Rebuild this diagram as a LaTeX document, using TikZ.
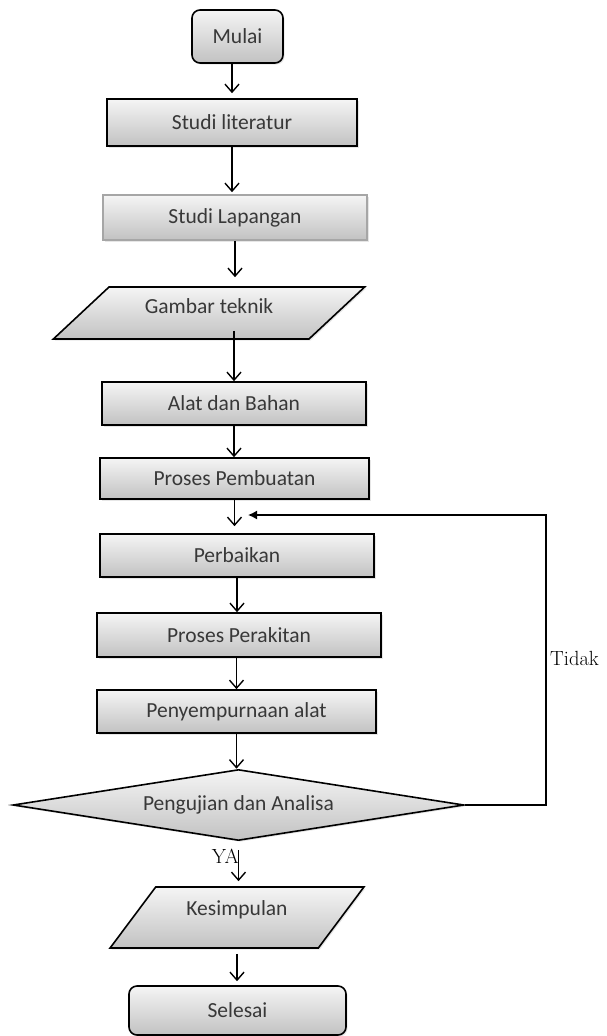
\documentclass[tikz,border=0pt]{standalone}
\usepackage{fontspec}
\usepackage{tikz}
\usetikzlibrary{arrows.meta}
\usetikzlibrary{shapes.geometric}
\usetikzlibrary{shadows}
\newfontfamily\calfont{Carlito}
\definecolor{ftop}{rgb}{0.96, 0.96, 0.96}
\definecolor{fbot}{rgb}{0.76, 0.76, 0.76}
\definecolor{ftext}{rgb}{0.22, 0.22, 0.22}
\tikzset{box/.style = {draw, line width = 1.6pt, top color = ftop, bottom color = fbot, text = ftext, inner sep = 0, font = \calfont\fontsize{21.5}{25}\selectfont, drop shadow = {shadow xshift = 1.5pt, shadow yshift = -1.5pt, opacity = 0.2}}}
\tikzset{term/.style = {box, rounded corners = 8pt}}
\tikzset{data/.style = {box, trapezium, trapezium stretches = true, text height = 15pt}}
\tikzset{dec/.style = {box, diamond, aspect = 6.35}}
\tikzset{arr/.style = {line width = 1.4pt, -{Straight Barb[length = 8pt, width = 14pt]}}}
\tikzset{back/.style = {line width = 1.4pt, -{Latex[length = 9pt, width = 9pt]}}}
\tikzset{lbl/.style = {inner sep = 0, font = \fontsize{20.5}{24}\selectfont}}

\begin{document}
\begin{tikzpicture}[x = 1pt, y = -1pt]
      \useasboundingbox (0, 0) rectangle (607, 1036);

      \node [term, minimum width = 91pt, minimum height = 53pt] (mulai) at (237.5, 36.5) {Mulai};
      \node [box, minimum width = 250pt, minimum height = 47pt] (lit) at (232, 122.5) {Studi literatur};
      \node [box, draw = gray!70, minimum width = 264pt, minimum height = 45pt] (lap) at (235, 217.5) {Studi Lapangan};
      \node [data, trapezium left angle = 40, trapezium right angle = 140, text depth = 15pt, minimum width = 312pt, minimum height = 52pt] (gambar) at (209, 313) {Gambar teknik};
      \node [box, minimum width = 264pt, minimum height = 43pt] (alat) at (234, 403.5) {Alat dan Bahan};
      \node [box, minimum width = 269pt, minimum height = 41pt] (pemb) at (234.5, 478.5) {Proses Pembuatan};
      \node [box, minimum width = 274pt, minimum height = 43pt] (perb) at (237, 555.5) {Perbaikan};
      \node [box, minimum width = 284pt, minimum height = 44pt] (perak) at (239, 635) {Proses Perakitan};
      \node [box, minimum width = 279pt, minimum height = 43pt] (peny) at (236.5, 711.5) {Penyempurnaan alat};
      \node [dec, minimum width = 451pt, minimum height = 71pt] (uji) at (238.5, 805) {Pengujian dan Analisa};
      \node [data, trapezium left angle = 51, trapezium right angle = 129, text depth = 20pt, minimum width = 254pt, minimum height = 61pt] (kes) at (237, 917.5) {Kesimpulan};
      \node [term, minimum width = 217pt, minimum height = 49pt] (sel) at (237.5, 1010.5) {Selesai};

      \draw [arr, shorten >= 5pt] (lit.north |- mulai.south) -- (lit.north);
      \draw [arr, shorten >= 2pt] (lit.south) -- (lit.south |- lap.north);
      \draw [arr, shorten >= 9pt] (lap.south) -- (lap.south |- gambar.north);
      \draw [arr, shorten <= -9pt] (alat.north |- gambar.south) -- (alat.north);
      \draw [arr] (alat.south) -- (alat.south |- pemb.north);
      \draw [arr, shorten >= 7pt] (pemb.south) -- (pemb.south |- perb.north);
      \draw [arr] (perb.south) -- (perb.south |- perak.north);
      \draw [arr] (peny.north |- perak.south) -- (peny.north);
      \draw [arr] (peny.south) -- (peny.south |- uji.north);
      \draw [arr, shorten <= 9pt, shorten >= 5pt] (uji.south) -- (uji.south |- kes.north);
      \draw [arr, shorten <= 5pt, shorten >= 4pt] (kes.south) -- (kes.south |- sel.north);

      \coordinate (ret) at (248, 515);
      \coordinate (bend) at (546, 515);
      \draw [back] (uji.east) -| (bend) -- (ret);

      \node [lbl, anchor = west] (tidak) at (550, 658) {Tidak};
      \node [lbl, anchor = east] (ya) at (239, 856) {YA};
    \end{tikzpicture}
\end{document}
